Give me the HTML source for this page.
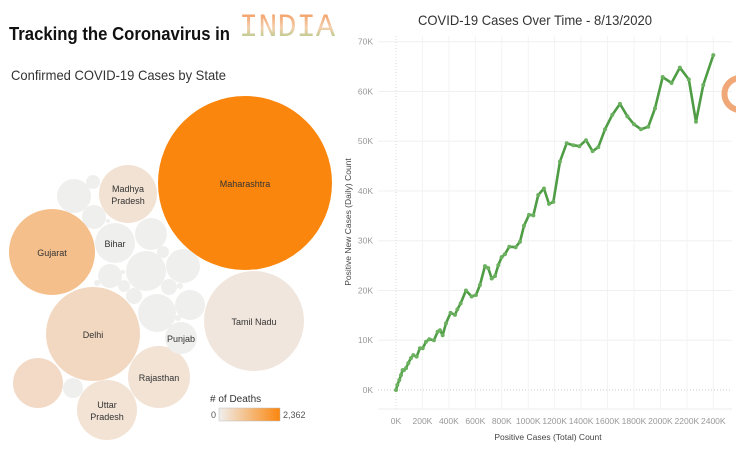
<!DOCTYPE html>
<html><head><meta charset="utf-8"><style>
body{margin:0;width:736px;height:454px;overflow:hidden;background:#fff;font-family:"Liberation Sans",sans-serif;position:relative}
.abs{position:absolute;white-space:nowrap}
</style></head><body>
<div class="abs" style="left:239px;top:9px;font-family:'Liberation Mono',monospace;font-size:32px;background:linear-gradient(#f3904e,#f5cfae 50%,#86c874);-webkit-background-clip:text;background-clip:text;color:transparent">INDIA</div>

<svg width="736" height="454" style="position:absolute;left:0;top:0">
<defs><linearGradient id="lg" x1="0" x2="1"><stop offset="0" stop-color="#efefee"/><stop offset="1" stop-color="#fb860d"/></linearGradient></defs>
<text x="9" y="40" font-size="18" font-weight="bold" fill="#111" textLength="221" lengthAdjust="spacingAndGlyphs">Tracking the Coronavirus in</text>
<text x="11" y="80" font-size="14" fill="#333" textLength="215" lengthAdjust="spacingAndGlyphs">Confirmed COVID-19 Cases by State</text>
<text x="418" y="25" font-size="14" fill="#333" textLength="234" lengthAdjust="spacingAndGlyphs">COVID-19 Cases Over Time - 8/13/2020</text>
<g id="bubbles"></g>
<g id="line"></g>
<path d="M738 78 C720 82 720 106 738 110" fill="none" stroke="#f0a878" stroke-width="6"/>
<text x="210" y="402" font-size="10" fill="#333"># of Deaths</text>
<rect x="219" y="408" width="61" height="13" fill="url(#lg)" stroke="#bbb" stroke-width="0.5"/>
<text x="211" y="418" font-size="9" fill="#555">0</text>
<text x="283" y="418" font-size="9" fill="#555">2,362</text>
</svg>
<script>
const NS='http://www.w3.org/2000/svg';
const bubbleNames=['Maharashtra','Tamil Nadu','Gujarat','Delhi','Madhya Pradesh','Rajasthan','Uttar Pradesh','Bihar','Punjab'];
const bubbleData=[[245,183,87,'#fb860d'],[254,321,50,'#f1e6dd'],[52,252,43,'#f4bf8b'],[93,334,47,'#f2d8c1'],[128,194,29,'#f2e2d3'],[159,377,31,'#f2e3d5'],[107,410,30,'#f2e3d5'],[115,243,20,'#efefee'],[181,338,16,'#efefee']];
const greyBubbles=[[38,383,25,'#f2dac6'],[74,196,17],[93,182,7],[94,217,12],[108,221,2],[151,234,16],[163,252,6],[146,271,20],[183,266,17],[110,276,12],[124,286,6],[97,283,3],[123,272,2],[134,296,8],[169,287,8],[180,286,3],[157,313,19],[190,305,15],[178,318,3],[73,388,10]];
const bg=document.getElementById('bubbles');
greyBubbles.forEach((b,i)=>{const c=document.createElementNS(NS,'circle');c.setAttribute('cx',b[0]);c.setAttribute('cy',b[1]);c.setAttribute('r',b[2]);c.setAttribute('fill',b[3]||'#efefee');


bg.appendChild(c);});
bubbleData.forEach((b,i)=>{const c=document.createElementNS(NS,'circle');c.setAttribute('cx',b[0]);c.setAttribute('cy',b[1]);c.setAttribute('r',b[2]);c.setAttribute('fill',b[3]);


bg.appendChild(c);
const parts=bubbleNames[i].split(' ');let lines=(parts.length>1)?parts:[bubbleNames[i]];
if(bubbleNames[i]==='Tamil Nadu')lines=['Tamil Nadu'];
lines.forEach((l,j)=>{const t=document.createElementNS(NS,'text');t.setAttribute('x',b[0]);t.setAttribute('y',b[1]+4+(j-(lines.length-1)/2)*12);t.setAttribute('text-anchor','middle');t.setAttribute('font-size','9');t.setAttribute('fill','#333');t.textContent=l;


bg.appendChild(t);});});

const totalCases=[0,10,25,38,50,60,76,93,113,131,156,181,202,227,252,287,315,333,353,378,413,446,464,489,529,572,605,635,673,698,724,749,774,799,824,857,905,938,968,1006,1039,1076,1119,1157,1190,1240,1291,1341,1387,1437,1487,1530,1581,1636,1694,1750,1800,1853,1908,1959,2017,2084,2147,2215,2269,2324,2400];
const newCases=[0,1,2,3,4,4,4.4,5.4,6.4,7,6.7,8.4,8.4,9.7,10.2,10,11.7,12,11,13.4,15.5,15.1,16.2,17.4,20,18.8,19.1,21.1,24.9,24.5,22.4,22.9,25.1,26.7,27.3,28.8,28.7,29.8,33,35.2,35.1,39.2,40.5,37.4,37.8,45.9,49.6,49.2,49,50.2,48,48.8,52.4,55.3,57.5,55,53.4,52.4,52.9,56.6,62.9,61.7,64.8,62.4,53.9,61.3,67.3];
const xTicks=[0,200,400,600,800,1000,1200,1400,1600,1800,2000,2200,2400];
const yTicks=[0,10,20,30,40,50,60,70];
const X=v=>396+v*317.3/2400, Y=v=>390-v*348.3/70;
const lg=document.getElementById('line');
function el(tag,attrs,name,inter){const e=document.createElementNS(NS,tag);for(const k in attrs)e.setAttribute(k,attrs[k]);


lg.appendChild(e);return e;}
yTicks.forEach(v=>{el('line',{x1:378,x2:732,y1:Y(v),y2:Y(v),stroke:v===0?'#ccc':'#f0f0f0','stroke-dasharray':v===0?'1,2':''},'y-gridline','false');
const t=el('text',{x:373,y:Y(v)+3,'text-anchor':'end','font-size':'8.5',fill:'#999'},'y-tick-label','false');t.textContent=v+'K';});
xTicks.forEach(v=>{el('line',{x1:X(v),x2:X(v),y1:36,y2:409,stroke:v===0?'#ddd':'#f3f3f3','stroke-dasharray':v===0?'1,2':''},'x-gridline','false');
const t=el('text',{x:X(v),y:424,'text-anchor':'middle','font-size':'8.5',fill:'#999'},'x-tick-label','false');t.textContent=v+'K';});
el('line',{x1:378,x2:732,y1:409,y2:409,stroke:'#eee'},'x-axis-line','false');
const yt=el('text',{x:0,y:0,'text-anchor':'middle','font-size':'8.5',fill:'#444',transform:'translate(351,222) rotate(-90)'},'y-axis-title','false');yt.textContent='Positive New Cases  (Daily) Count';
const xt=el('text',{x:548,y:440,'text-anchor':'middle','font-size':'8.5',fill:'#444'},'x-axis-title','false');xt.textContent='Positive Cases (Total) Count';
el('polyline',{points:totalCases.map((v,i)=>X(v)+','+Y(newCases[i])).join(' '),fill:'none',stroke:'#4e9c44','stroke-width':2.6,'stroke-linejoin':'round'},'cases-line','false');
totalCases.forEach((v,i)=>{el('circle',{cx:X(v),cy:Y(newCases[i]),r:2,fill:'#6cb160'},'data-point','true');});
</script>
</body></html>
